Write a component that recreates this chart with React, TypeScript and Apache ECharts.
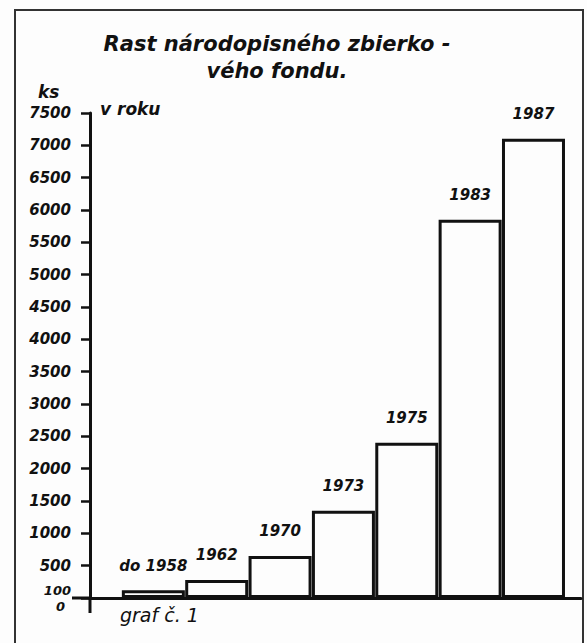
import React, { useEffect, useRef } from "react";
import * as echarts from "echarts";

const categories = ["do 1958", "1962", "1970", "1973", "1975", "1983", "1987"];
const values = [120, 280, 650, 1350, 2400, 5850, 7100];
const yTicks = { min: 0, max: 7500, interval: 500 };
const titleText = "Rast národopisného zbierko -\nvého fondu.";
const unitText = "ks";
const yearText = "v roku";
const captionText = "graf č. 1";

const FONT = "'DejaVu Sans', sans-serif";

export default function App() {
  const ref = useRef<HTMLDivElement>(null);
  useEffect(() => {
    if (!ref.current) return;
    const chart = echarts.init(ref.current, undefined, { renderer: "svg" });
    const textBase = { fontFamily: FONT, fontStyle: "italic", fontWeight: "bold", fill: "#111" };
    chart.setOption({
      animation: false,
      backgroundColor: "#fdfdfd",
      grid: { left: 90, right: 6, top: 113, bottom: 45 },
      xAxis: {
        type: "value",
        min: -1,
        max: 6.75,
        axisLine: { show: true, onZero: false, lineStyle: { color: "#111", width: 3 } },
        axisTick: { show: false },
        axisLabel: { show: false },
        splitLine: { show: false },
      },
      yAxis: {
        type: "value",
        min: yTicks.min,
        max: yTicks.max,
        interval: yTicks.interval,
        axisLine: { show: true, onZero: false, lineStyle: { color: "#111", width: 3 } },
        axisTick: { show: true, length: 9, lineStyle: { color: "#111", width: 2.5 } },
        splitLine: { show: false },
        axisLabel: {
          margin: 19,
          color: "#111",
          fontFamily: FONT,
          fontStyle: "italic",
          fontWeight: "bold",
          fontSize: 15,
          formatter: (v: number) => (v === 0 ? "{s|100}\n{z|0}" : String(v)),
          rich: {
            s: { fontFamily: FONT, fontStyle: "italic", fontWeight: "bold", fontSize: 13, color: "#111", lineHeight: 16, align: "right" },
            z: { fontFamily: FONT, fontStyle: "italic", fontWeight: "bold", fontSize: 13, color: "#111", lineHeight: 16, align: "right", padding: [0, 6, 0, 0] },
          },
        },
      },
      series: [
        {
          type: "bar",
          barWidth: 63,
          data: values.map((v, i) => [i, v]),
          itemStyle: { color: "#fdfdfd", borderColor: "#111", borderWidth: 3 },
          label: {
            show: true,
            position: "top",
            distance: 17,
            color: "#111",
            fontFamily: FONT,
            fontStyle: "italic",
            fontWeight: "bold",
            fontSize: 15,
            formatter: (p: any) => categories[p.dataIndex],
          },
        },
      ],
      graphic: [
        {
          type: "rect",
          shape: { x: 15, y: 10, width: 568, height: 645 },
          style: { fill: "none", stroke: "#333", lineWidth: 2 },
          silent: true,
        },
        {
          type: "line",
          shape: { x1: 72, y1: 598, x2: 90, y2: 598 },
          style: { stroke: "#111", lineWidth: 3 },
          silent: true,
        },
        {
          type: "line",
          shape: { x1: 90, y1: 598, x2: 90, y2: 613 },
          style: { stroke: "#111", lineWidth: 3 },
          silent: true,
        },
        {
          type: "text",
          x: 277,
          y: 30,
          style: { ...textBase, text: titleText, fontSize: 21, lineHeight: 27, textAlign: "center" },
        },
        {
          type: "text",
          x: 38,
          y: 83,
          style: { ...textBase, text: unitText, fontSize: 17 },
        },
        {
          type: "text",
          x: 100,
          y: 100,
          style: { ...textBase, text: yearText, fontSize: 17 },
        },
        {
          type: "text",
          x: 120,
          y: 605,
          style: { ...textBase, fontWeight: "normal", text: captionText, fontSize: 19 },
        },
      ],
    });
    return () => chart.dispose();
  }, []);
  return (
    <div
      ref={ref}
      style={{ position: "fixed", left: 0, top: 0, width: 587, height: 643 }}
    />
  );
}
